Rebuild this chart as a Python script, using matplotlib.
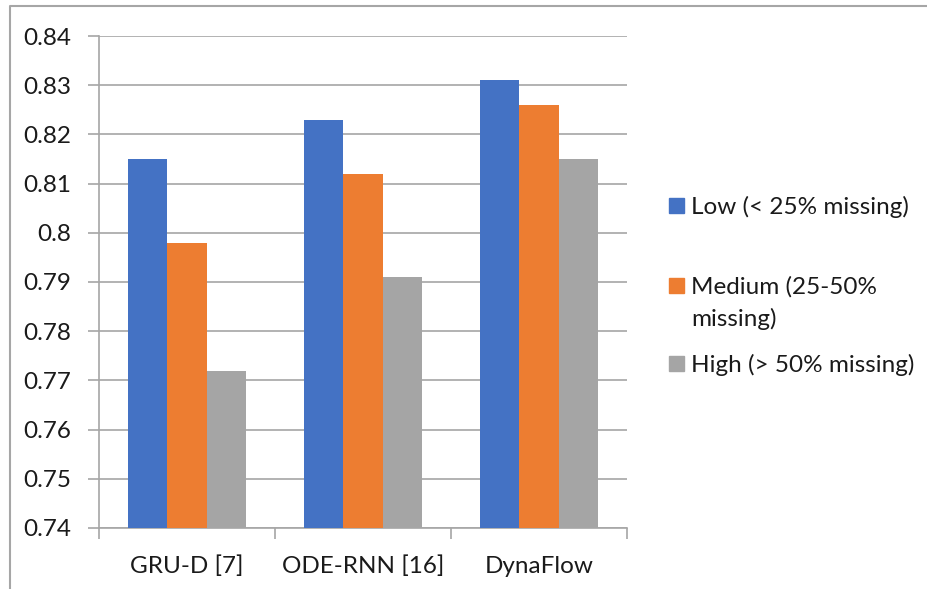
import matplotlib
matplotlib.use("Agg")
import matplotlib.pyplot as plt
import numpy as np
from matplotlib.patches import Rectangle
from matplotlib.lines import Line2D

categories = ["GRU-D [7]", "ODE-RNN [16]", "DynaFlow"]
series_names = ["Low (< 25% missing)", "Medium (25-50%\nmissing)", "High (> 50% missing)"]
low = [0.815, 0.823, 0.831]
medium = [0.798, 0.812, 0.826]
high = [0.772, 0.791, 0.815]
colors = ["#4472C4", "#ED7D31", "#A5A5A5"]
yticks = [0.74, 0.75, 0.76, 0.77, 0.78, 0.79, 0.80, 0.81, 0.82, 0.83, 0.84]
ytick_labels = ["0.74", "0.75", "0.76", "0.77", "0.78", "0.79", "0.8", "0.81", "0.82", "0.83", "0.84"]

plt.rcParams['font.family'] = ['Lato', 'DejaVu Sans']
W, H = 927, 589
fig = plt.figure(figsize=(W / 100, H / 100), dpi=100)
fig.patch.set_facecolor("white")

left, right, top, bottom = 99, 627, 36, 528
ax = fig.add_axes([left / W, 1 - bottom / H, (right - left) / W, (bottom - top) / H])

grid_c = "#A6A6A6"
txt_c = "#1a1a1a"
x = np.arange(len(categories))
bw = 0.223
for i, (vals, c) in enumerate(zip([low, medium, high], colors)):
    ax.bar(x + (i - 1) * bw, vals, width=bw, color=c, zorder=3, linewidth=0)

ax.set_ylim(0.74, 0.84)
ax.set_xlim(-0.5, 2.5)
ax.set_yticks(yticks)
ax.set_yticklabels(ytick_labels, fontsize=17.5, color=txt_c)
ax.set_xticks(x)
ax.set_xticklabels(categories, fontsize=17.5, color=txt_c)
ax.tick_params(axis='x', length=0, pad=20)
ax.tick_params(axis='y', length=8, width=1.2, color=grid_c, pad=12)
ax.yaxis.grid(True, color=grid_c, linewidth=1.2, zorder=0)
for s in ["top", "right"]:
    ax.spines[s].set_visible(False)
ax.spines["left"].set_color(grid_c)
ax.spines["left"].set_linewidth(1.2)
ax.spines["bottom"].set_color(grid_c)
ax.spines["bottom"].set_linewidth(1.2)
ax.set_xticks([-0.5, 0.5, 1.5, 2.5], minor=True)
ax.tick_params(axis='x', which='minor', length=8, width=1.2, color=grid_c)

def px(xp, yp):
    return xp / W, 1 - yp / H

bx = [10, 10, 927]
by = [589, 6, 6]
fig.add_artist(Line2D([b / W for b in bx], [1 - b / H for b in by], color="#A6A6A6", linewidth=1.5))

# legend (marker at first line of each entry)
leg_y = [205, 285, 363]
line_gap = 32
for name, c, yc in zip(series_names, colors, leg_y):
    fig.add_artist(Rectangle(px(669, yc + 7.5), 15 / W, 15 / H, color=c, transform=fig.transFigure))
    for k, line in enumerate(name.split("\n")):
        fig.text(691 / W, 1 - (yc + k * line_gap) / H, line, fontsize=17.5, color=txt_c,
                 va='center_baseline', ha='left')

fig.savefig("out.png", dpi=100)
